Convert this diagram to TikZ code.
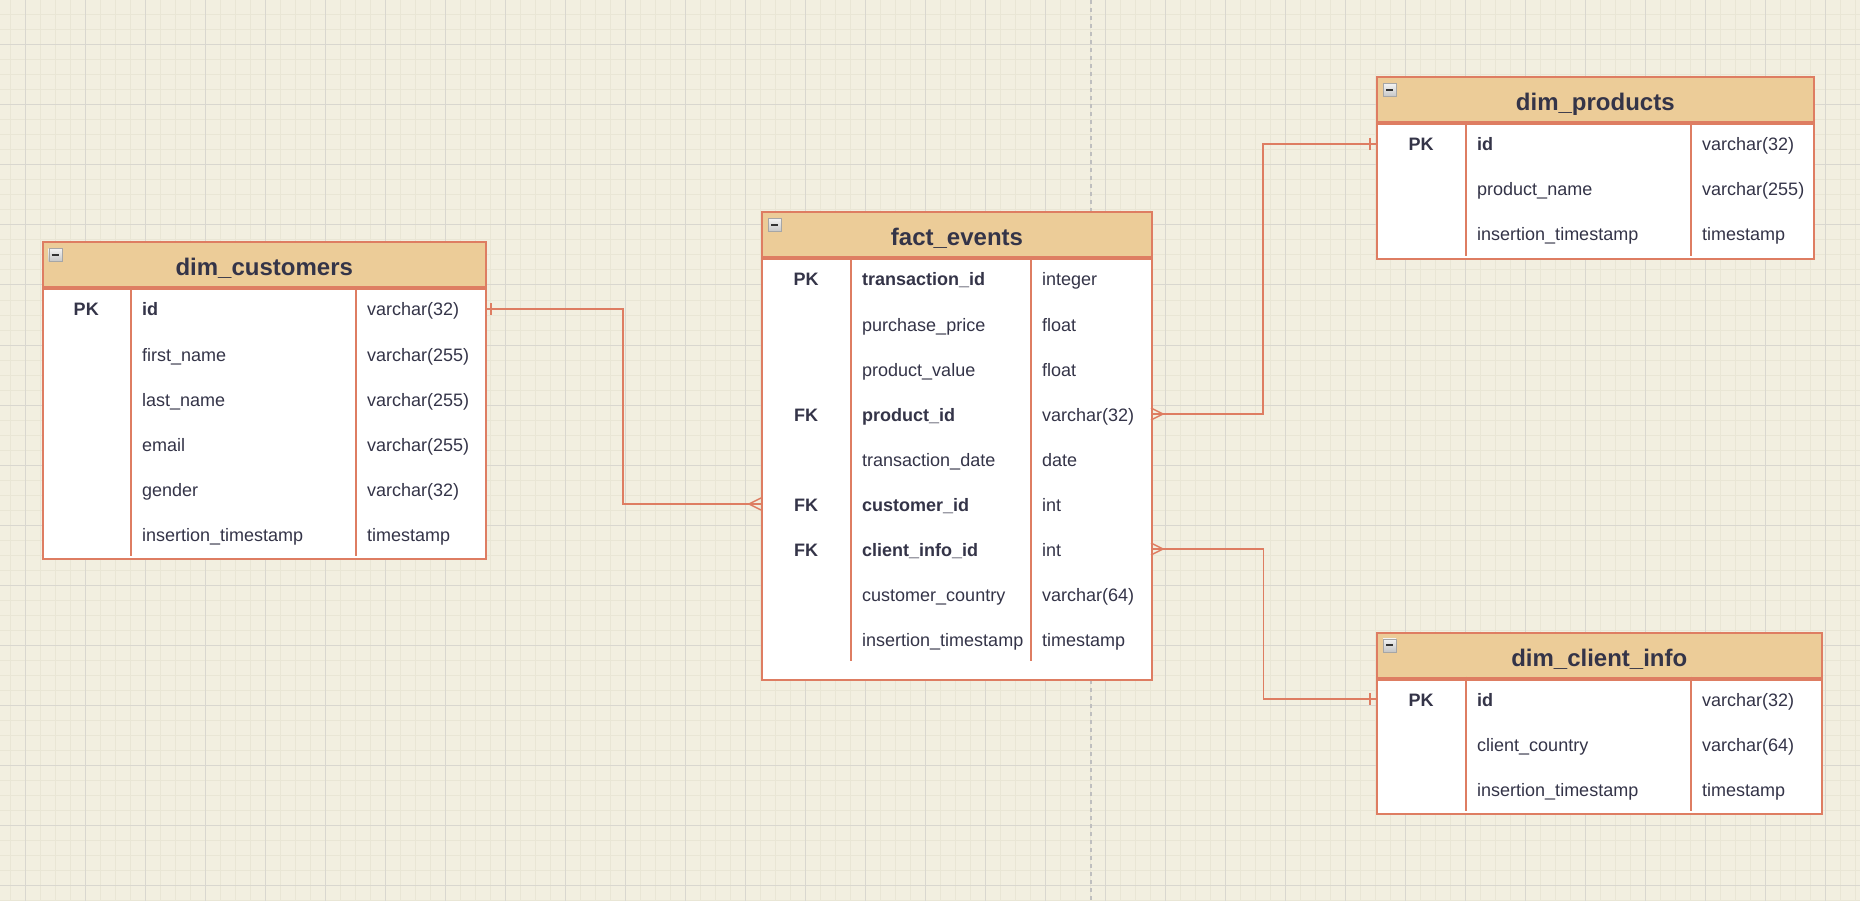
\documentclass[tikz,border=0pt]{standalone}
\usepackage{fontspec}
\setmainfont{Liberation Sans}

\definecolor{erdbg}{RGB}{242,239,224}
\definecolor{erdminor}{RGB}{233,230,213}
\definecolor{erdmajor}{RGB}{217,215,207}
\definecolor{erdhead}{RGB}{236,204,152}
\definecolor{erdline}{RGB}{222,125,98}
\definecolor{erdtext}{RGB}{52,52,72}

\tikzset{
  head/.style={draw=erdline, fill=erdhead, line width=2pt, minimum height=45pt, inner sep=0pt, anchor=north west},
  body/.style={draw=erdline, fill=white, line width=2pt, inner sep=0pt, anchor=north west},
  divider/.style={draw=erdline, line width=2pt},
  rel/.style={draw=erdline, line width=1.5pt},
  title/.style={font=\fontsize{24}{28}\selectfont\bfseries, text=erdtext, anchor=base, inner sep=0pt},
  keytxt/.style={font=\fontsize{18}{22}\selectfont\bfseries, text=erdtext, anchor=base, inner sep=0pt},
  fld0/.style={font=\fontsize{18}{22}\selectfont, text=erdtext, anchor=base west, inner sep=0pt},
  fld1/.style={fld0, font=\fontsize{18}{22}\selectfont\bfseries},
  rowbox/.style={minimum height=45pt, inner sep=0pt, outer sep=0pt, anchor=north west},
  minusbox/.style={draw=gray!70, top color=gray!10, bottom color=gray!45, minimum size=13pt,
    inner sep=0pt, anchor=north west,
    path picture={\draw[black!80, line width=1.6pt]
      ([xshift=3pt]path picture bounding box.west) -- ([xshift=-3pt]path picture bounding box.east);}},
  minorgrid/.style={draw=erdminor, line width=1pt},
  majorgrid/.style={draw=erdmajor, line width=1pt},
  pagebreak/.style={draw=black!25, line width=1.5pt, dash pattern=on 4pt off 4pt}
}

\begin{document}
\begin{tikzpicture}[x=1pt, y=-1pt]

% Canvas and grid
\fill[erdbg] (0,0) rectangle (1860,901);
\useasboundingbox (0,0) rectangle (1860,901);
\foreach \x in {10,25,...,1855} \draw[minorgrid] (\x,0) -- (\x,901);
\foreach \y in {0,15,...,900} \draw[minorgrid] (0,\y) -- (1860,\y);
\foreach \x in {25,85,...,1825} \draw[majorgrid] (\x,0) -- (\x,901);
\foreach \y in {45,105,...,885} \draw[majorgrid] (0,\y) -- (1860,\y);
\draw[pagebreak] (1091,0) -- (1091,901);

% Table dim_customers
\node[head, minimum width=443.5pt] (cust) at (41.5,241.5) {};
\node[body, minimum width=443.5pt, minimum height=269.5pt] (cust-body) at (cust.south west) {};
\node[title] (cust-title) at ([yshift=-11pt]cust.center) {dim\_customers};
\node[minusbox] (cust-min) at (48.5,248.5) {};
\draw[divider] (131,286.5) -- (131,556);
\draw[divider] (356,286.5) -- (356,556);
\foreach \k/\n/\t/\b [count=\i] in {PK/id/{varchar(32)}/1, /first\_name/{varchar(255)}/0,
    /last\_name/{varchar(255)}/0, /email/{varchar(255)}/0, /gender/{varchar(32)}/0,
    /insertion\_timestamp/timestamp/0} {
  \pgfmathsetmacro\yy{286.5+45*(\i-1)}
  \node[rowbox, minimum width=443.5pt] (cust-r\i) at (41.5,\yy) {};
  \node[keytxt] (cust-k\i) at (86.25,\yy+29.5) {\k};
  \node[fld\b] (cust-n\i) at (142,\yy+29.5) {\n};
  \node[fld0] (cust-t\i) at (367,\yy+29.5) {\t};
}

% Table fact_events
\node[head, minimum width=390pt] (fact) at (761,211.5) {};
\node[body, minimum width=390pt, minimum height=420pt] (fact-body) at (fact.south west) {};
\node[title] (fact-title) at ([yshift=-11pt]fact.center) {fact\_events};
\node[minusbox] (fact-min) at (768,218.5) {};
\draw[divider] (851,256.5) -- (851,661);
\draw[divider] (1031,256.5) -- (1031,661);
\foreach \k/\n/\t/\b [count=\i] in {PK/transaction\_id/integer/1, /purchase\_price/float/0,
    /product\_value/float/0, FK/product\_id/{varchar(32)}/1, /transaction\_date/date/0,
    FK/customer\_id/int/1, FK/client\_info\_id/int/1, /customer\_country/{varchar(64)}/0,
    /insertion\_timestamp/timestamp/0} {
  \pgfmathsetmacro\yy{256.5+45*(\i-1)}
  \node[rowbox, minimum width=390pt] (fact-r\i) at (761,\yy) {};
  \node[keytxt] (fact-k\i) at (806,\yy+29.5) {\k};
  \node[fld\b] (fact-n\i) at (862,\yy+29.5) {\n};
  \node[fld0] (fact-t\i) at (1042,\yy+29.5) {\t};
}

% Table dim_products
\node[head, minimum width=436.5pt] (prod) at (1376,76.5) {};
\node[body, minimum width=436.5pt, minimum height=134.5pt] (prod-body) at (prod.south west) {};
\node[title] (prod-title) at ([yshift=-11pt]prod.center) {dim\_products};
\node[minusbox] (prod-min) at (1383,83.5) {};
\draw[divider] (1466,121.5) -- (1466,256);
\draw[divider] (1691,121.5) -- (1691,256);
\foreach \k/\n/\t/\b [count=\i] in {PK/id/{varchar(32)}/1, /product\_name/{varchar(255)}/0,
    /insertion\_timestamp/timestamp/0} {
  \pgfmathsetmacro\yy{121.5+45*(\i-1)}
  \node[rowbox, minimum width=436.5pt] (prod-r\i) at (1376,\yy) {};
  \node[keytxt] (prod-k\i) at (1421,\yy+29.5) {\k};
  \node[fld\b] (prod-n\i) at (1477,\yy+29.5) {\n};
  \node[fld0] (prod-t\i) at (1702,\yy+29.5) {\t};
}

% Table dim_client_info
\node[head, minimum width=444.5pt] (cli) at (1376,631.5) {};
\node[body, minimum width=444.5pt, minimum height=134.5pt] (cli-body) at (cli.south west) {};
\node[title] (cli-title) at ([yshift=-11pt]cli.center) {dim\_client\_info};
\node[minusbox] (cli-min) at (1383,638.5) {};
\draw[divider] (1466,676.5) -- (1466,811);
\draw[divider] (1691,676.5) -- (1691,811);
\foreach \k/\n/\t/\b [count=\i] in {PK/id/{varchar(32)}/1, /client\_country/{varchar(64)}/0,
    /insertion\_timestamp/timestamp/0} {
  \pgfmathsetmacro\yy{676.5+45*(\i-1)}
  \node[rowbox, minimum width=444.5pt] (cli-r\i) at (1376,\yy) {};
  \node[keytxt] (cli-k\i) at (1421,\yy+29.5) {\k};
  \node[fld\b] (cli-n\i) at (1477,\yy+29.5) {\n};
  \node[fld0] (cli-t\i) at (1702,\yy+29.5) {\t};
}

% Relations: one side gets a bar, many side a crow's foot
\draw[rel] (cust-r1.east) -- ++(138,0) |- (fact-r6.west);
\draw[rel] ([xshift=6pt,yshift=6pt]cust-r1.east) -- ([xshift=6pt,yshift=-6pt]cust-r1.east);
\draw[rel] ([yshift=6pt]fact-r6.west) -- ([xshift=-12pt]fact-r6.west) -- ([yshift=-6pt]fact-r6.west);

\draw[rel] (fact-r4.east) -- ++(112,0) |- (prod-r1.west);
\draw[rel] ([yshift=6pt]fact-r4.east) -- ([xshift=12pt]fact-r4.east) -- ([yshift=-6pt]fact-r4.east);
\draw[rel] ([xshift=-6pt,yshift=6pt]prod-r1.west) -- ([xshift=-6pt,yshift=-6pt]prod-r1.west);

\draw[rel] (fact-r7.east) -- ++(112.5,0) |- (cli-r1.west);
\draw[rel] ([yshift=6pt]fact-r7.east) -- ([xshift=12pt]fact-r7.east) -- ([yshift=-6pt]fact-r7.east);
\draw[rel] ([xshift=-6pt,yshift=6pt]cli-r1.west) -- ([xshift=-6pt,yshift=-6pt]cli-r1.west);

\end{tikzpicture}
\end{document}
